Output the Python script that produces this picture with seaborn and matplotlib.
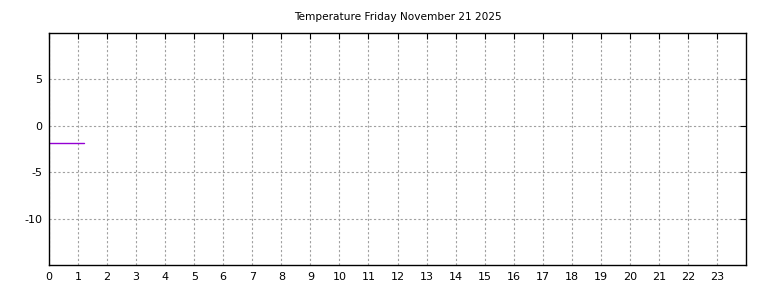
import matplotlib
matplotlib.use("Agg")
import matplotlib.pyplot as plt
import seaborn as sns
import pandas as pd

title = "Temperature Friday November 21 2025"
hours = [0.0, 1.2]
temps = [-1.9, -1.9]
x_ticks = list(range(0, 24))
y_ticks = [-10, -5, 0, 5]

sns.set_theme(style="white")
plt.rcParams['font.family'] = ['DejaVu Sans']
plt.rcParams['text.color'] = 'black'

fig = plt.figure(figsize=(7.68, 2.88), dpi=100)
ax = fig.add_axes([49/768, 1-265/288, (746-49)/768, (265-33)/288])

df = pd.DataFrame({"hour": hours, "temp": temps})
sns.lineplot(data=df, x="hour", y="temp", ax=ax, color="#9400d3", linewidth=1.0)

ax.set_xlim(0, 24)
ax.set_ylim(-15, 10)
ax.set_xticks(x_ticks)
ax.set_yticks(y_ticks)
ax.set_xticklabels([str(t) for t in x_ticks], fontsize=8)
ax.set_yticklabels([str(t) for t in y_ticks], fontsize=8)
ax.set_xlabel("")
ax.set_ylabel("")
ax.set_title(title, fontsize=7.6, pad=9, color="black")
ax.grid(True, color="#a0a0a0", linestyle=(0, (2, 2)), linewidth=0.8)
ax.tick_params(direction="in", length=4, width=0.8, top=True, right=True, colors="black", labelcolor="black", pad=5)
for s in ax.spines.values():
    s.set_color("black")
    s.set_linewidth(1.0)

fig.savefig("out.png", dpi=100)
